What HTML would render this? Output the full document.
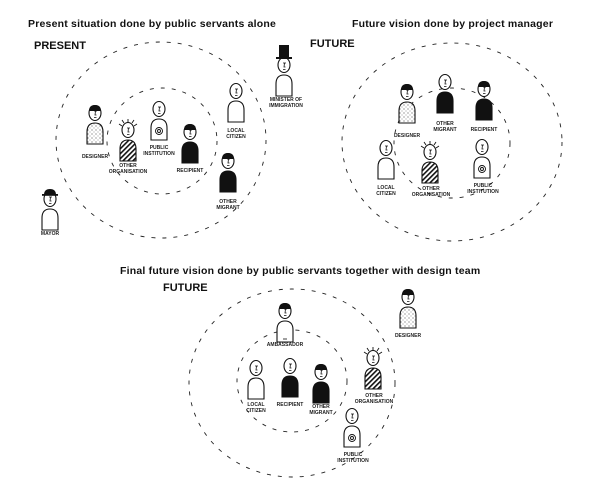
<!DOCTYPE html>
<html><head><meta charset="utf-8"><style>
html,body{margin:0;padding:0;background:#fff;}
svg{display:block;}
.t{font-family:"Liberation Sans",sans-serif;font-weight:bold;font-size:10.5px;letter-spacing:0.2px;fill:#111;}
.h{font-family:"Liberation Sans",sans-serif;font-weight:bold;font-size:11px;fill:#111;}
.l{font-family:"Liberation Sans",sans-serif;font-weight:bold;font-size:5px;fill:#222;text-anchor:middle;}
.c{fill:none;stroke:#222;stroke-width:0.9;stroke-dasharray:4 7;}
.hd{fill:#fff;stroke:#111;stroke-width:1.1;}
.bw{fill:#fff;stroke:#111;stroke-width:1.1;}
.bb{fill:#111;stroke:#111;stroke-width:1.1;}
.bd{fill:url(#dots);stroke:#111;stroke-width:1.1;}
.bs{fill:url(#str);stroke:#111;stroke-width:1.1;}
</style></head><body>
<svg width="602" height="480" viewBox="0 0 602 480" xmlns="http://www.w3.org/2000/svg">
<defs>
<pattern id="dots" width="4" height="4" patternUnits="userSpaceOnUse"><rect width="4" height="4" fill="#fff"/><circle cx="1" cy="1" r="0.5" fill="#111"/><circle cx="3" cy="3" r="0.4" fill="#111"/></pattern>
<pattern id="str" width="3.5" height="3.5" patternUnits="userSpaceOnUse" patternTransform="rotate(45)"><rect width="3.5" height="3.5" fill="#fff"/><rect width="1.6" height="3.5" fill="#111"/></pattern>
<g id="head"><ellipse cx="0" cy="0" rx="6" ry="7.5" class="hd"/><path d="M-1,-2 L2,-2 M0.5,-2 L0,2 L1.5,2 M-1,4.5 L1.5,4.5" stroke="#111" stroke-width="0.8" fill="none"/></g>
<path id="body" d="M-8,31 L-8,19 Q-8,10 0,10 Q8,10 8,19 L8,31 Z"/>
<g id="spiral"><circle cx="0" cy="22" r="3.5" fill="none" stroke="#111" stroke-width="0.9"/><circle cx="0" cy="22" r="1.5" fill="none" stroke="#111" stroke-width="0.9"/></g>
<g id="spikes"><path d="M0,-8 L0,-11 M-4,-7 L-6,-10 M4,-7 L6,-10 M-6,-4 L-9,-6 M6,-4 L9,-6" stroke="#111" stroke-width="0.9"/></g>
<g id="hair"><path d="M-6,-2 Q-6,-8 0,-8 Q6,-8 6,-2 Z" fill="#111"/></g>
</defs>

<text class="t" x="28" y="27">Present situation done by public servants alone</text>
<text class="t" x="352" y="27">Future vision done by project manager</text>
<text class="t" x="120" y="274">Final future vision done by public servants together with design team</text>
<text class="h" x="34" y="49">PRESENT</text>
<text class="h" x="310" y="47">FUTURE</text>
<text class="h" x="163" y="291">FUTURE</text>

<ellipse class="c" cx="161" cy="140" rx="105" ry="98"/>
<ellipse class="c" cx="162" cy="141" rx="55" ry="53"/>
<ellipse class="c" cx="452" cy="142" rx="110" ry="99"/>
<ellipse class="c" cx="452" cy="143" rx="58" ry="55"/>
<ellipse class="c" cx="292" cy="383" rx="103" ry="94"/>
<ellipse class="c" cx="292" cy="381" rx="55" ry="51"/>

<g transform="translate(95,113)"><use href="#body" class="bd"/><use href="#head"/><use href="#hair"/></g>
<text class="l" x="95" y="158">DESIGNER</text>
<g transform="translate(128,130)"><use href="#body" class="bs"/><use href="#head"/><use href="#spikes"/></g>
<text class="l" x="128" y="167">OTHER</text><text class="l" x="128" y="173">ORGANISATION</text>
<g transform="translate(159,109)"><use href="#body" class="bw"/><use href="#spiral"/><use href="#head"/></g>
<text class="l" x="159" y="149">PUBLIC</text><text class="l" x="159" y="155">INSTITUTION</text>
<g transform="translate(190,132)"><use href="#body" class="bb"/><use href="#head"/><use href="#hair"/></g>
<text class="l" x="190" y="172">RECIPIENT</text>
<g transform="translate(236,91)"><use href="#body" class="bw"/><use href="#head"/></g>
<text class="l" x="236" y="132">LOCAL</text><text class="l" x="236" y="138">CITIZEN</text>
<g transform="translate(284,65)"><use href="#body" class="bw"/><use href="#head"/><rect x="-5" y="-20" width="10" height="13" fill="#111"/><rect x="-8" y="-8" width="16" height="2" fill="#111"/></g>
<text class="l" x="286" y="101">MINISTER OF</text><text class="l" x="286" y="107">IMMIGRATION</text>
<g transform="translate(228,161)"><use href="#body" class="bb"/><use href="#head"/><use href="#hair"/></g>
<text class="l" x="228" y="203">OTHER</text><text class="l" x="228" y="209">MIGRANT</text>
<g transform="translate(50,199)"><use href="#body" class="bw"/><use href="#head"/><path d="M-6,-4 Q-6,-10 0,-10 Q6,-10 6,-4 Z" fill="#111"/><rect x="-8" y="-5" width="16" height="1.8" fill="#111"/></g>
<text class="l" x="50" y="235">MAYOR</text>

<g transform="translate(407,92)"><use href="#body" class="bd"/><use href="#head"/><use href="#hair"/></g>
<text class="l" x="407" y="137">DESIGNER</text>
<g transform="translate(445,82)"><use href="#body" class="bb"/><use href="#head"/></g>
<text class="l" x="445" y="125">OTHER</text><text class="l" x="445" y="131">MIGRANT</text>
<g transform="translate(484,89)"><use href="#body" class="bb"/><use href="#head"/><use href="#hair"/></g>
<text class="l" x="484" y="131">RECIPIENT</text>
<g transform="translate(386,148)"><use href="#body" class="bw"/><use href="#head"/></g>
<text class="l" x="386" y="189">LOCAL</text><text class="l" x="386" y="195">CITIZEN</text>
<g transform="translate(430,152)"><use href="#body" class="bs"/><use href="#head"/><use href="#spikes"/></g>
<text class="l" x="431" y="190">OTHER</text><text class="l" x="431" y="196">ORGANISATION</text>
<g transform="translate(482,147)"><use href="#body" class="bw"/><use href="#spiral"/><use href="#head"/></g>
<text class="l" x="483" y="187">PUBLIC</text><text class="l" x="483" y="193">INSTITUTION</text>

<g transform="translate(285,311)"><use href="#body" class="bw"/><use href="#head"/><use href="#hair"/><path d="M-2,28 L2,28" stroke="#111" stroke-width="0.8"/></g>
<text class="l" x="285" y="346">AMBASSADOR</text>
<g transform="translate(408,297)"><use href="#body" class="bd"/><use href="#head"/><use href="#hair"/></g>
<text class="l" x="408" y="337">DESIGNER</text>
<g transform="translate(256,368)"><use href="#body" class="bw"/><use href="#head"/></g>
<text class="l" x="256" y="406">LOCAL</text><text class="l" x="256" y="412">CITIZEN</text>
<g transform="translate(290,366)"><use href="#body" class="bb"/><use href="#head"/></g>
<text class="l" x="290" y="406">RECIPIENT</text>
<g transform="translate(321,372)"><use href="#body" class="bb"/><use href="#head"/><use href="#hair"/></g>
<text class="l" x="321" y="408">OTHER</text><text class="l" x="321" y="414">MIGRANT</text>
<g transform="translate(373,358)"><use href="#body" class="bs"/><use href="#head"/><use href="#spikes"/></g>
<text class="l" x="374" y="397">OTHER</text><text class="l" x="374" y="403">ORGANISATION</text>
<g transform="translate(352,416)"><use href="#body" class="bw"/><use href="#spiral"/><use href="#head"/></g>
<text class="l" x="353" y="456">PUBLIC</text><text class="l" x="353" y="462">INSTITUTION</text>
</svg>
</body></html>
